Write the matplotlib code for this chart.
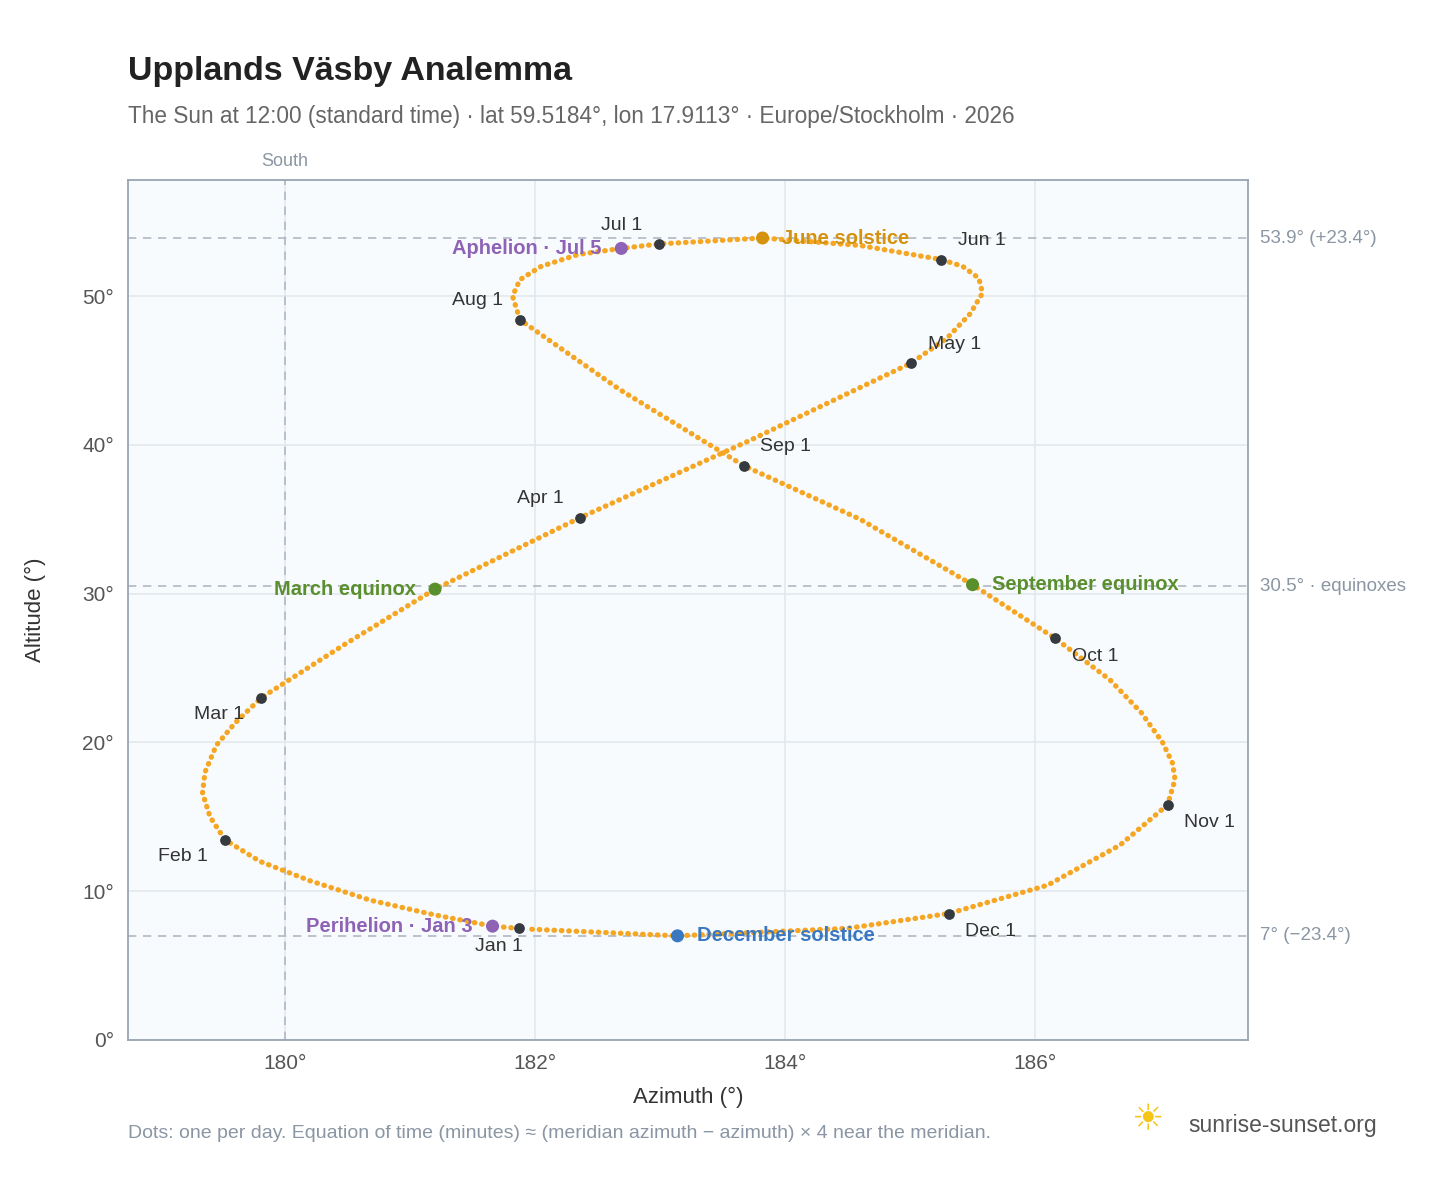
import matplotlib
matplotlib.use("Agg")
import matplotlib.pyplot as plt
plt.rcParams['font.family'] = ['Liberation Sans', 'DejaVu Sans']

# Path (approx. every ~5-10 days)
path_az = [181.87,181.66,181.20,180.68,180.20,179.80,179.52,179.40,179.34,179.36,179.45,179.60,179.81,180.48,181.20,182.36,183.72,185.01,185.30,185.48,185.58,185.55,185.42,185.25,184.60,183.82,182.99,182.69,182.35,182.05,181.88,181.82,181.88,182.68,183.67,184.60,185.50,186.16,186.60,186.85,187.02,187.10,187.12,187.06,186.68,186.10,185.31,184.50,183.14,181.95]
path_alt = [7.50,7.65,8.40,9.40,10.70,12.00,13.45,15.00,16.60,18.00,19.80,21.30,23.00,26.60,30.30,35.10,40.30,45.50,47.20,48.80,50.20,51.20,52.00,52.45,53.40,53.90,53.50,53.20,52.80,52.00,51.10,50.00,48.40,43.70,38.60,35.00,30.60,27.00,24.20,22.00,20.00,18.60,17.50,15.80,13.10,10.40,8.50,7.50,7.00,7.45]

months = ["Jan 1","Feb 1","Mar 1","Apr 1","May 1","Jun 1","Jul 1","Aug 1","Sep 1","Oct 1","Nov 1","Dec 1"]
month_az = [181.87,179.52,179.81,182.36,185.01,185.25,182.99,181.88,183.67,186.16,187.06,185.31]
month_alt = [7.5,13.45,23.0,35.1,45.5,52.45,53.5,48.4,38.6,27.0,15.8,8.5]
month_off = [(-14,-13,'center'),(-12,-12,'right'),(-12,-12,'right'),(-12,14,'right'),(12,13,'left'),(12,14,'left'),(-12,13,'right'),(-12,14,'right'),(12,14,'left'),(12,-13,'left'),(12,-13,'left'),(12,-13,'left')]

events = ["June solstice","December solstice","March equinox","September equinox","Perihelion · Jan 3","Aphelion · Jul 5"]
event_az = [183.82,183.14,181.20,185.50,181.66,182.69]
event_alt = [53.9,7.0,30.3,30.6,7.65,53.2]
event_col = ["#d4920e","#3a78c2","#5a8f2e","#5a8f2e","#8e63b5","#8e63b5"]
event_side = ['left','left','right','left','right','right']

fig = plt.figure(figsize=(14.48,11.88), dpi=100)
ax = fig.add_axes([0.0884,0.1246,0.7735,0.7239])
ax.set_facecolor("#f8fbfe")
ax.set_xlim(178.744,187.704); ax.set_ylim(0,57.8)
ax.set_xticks([180,182,184,186]); ax.set_xticklabels(["180°","182°","184°","186°"])
ax.set_yticks(range(0,60,10)); ax.set_yticklabels([f"{v}°" for v in range(0,60,10)])
ax.grid(color="#e3e8ee", lw=1.2); ax.set_axisbelow(True)
for s in ax.spines.values(): s.set_color("#9aa5b1"); s.set_linewidth(1.3)
ax.tick_params(length=0, labelsize=15, colors="#555", pad=10)
ax.set_xlabel("Azimuth (°)", fontsize=16, color="#333", labelpad=10)
ax.set_ylabel("Altitude (°)", fontsize=16, color="#333", labelpad=26)

for y in [53.9,30.5,7.0]:
    ax.axhline(y, color="#b0b8c2", ls=(0,(5,4)), lw=1.2)
ax.axvline(180, color="#b0b8c2", ls=(0,(5,4)), lw=1.2)
ax.text(180,58.5,"South",ha='center',va='bottom',color="#8a96a3",fontsize=13)
for y,t in [(53.9,"53.9° (+23.4°)"),(30.5,"30.5° · equinoxes"),(7.0,"7° (−23.4°)")]:
    ax.text(187.8,y,t,va='center',ha='left',color="#8a96a3",fontsize=13.5)

ax.plot(path_az,path_alt,color="#f5a623",lw=3.8,ls=(0,(0.1,1.3)),dash_capstyle='round',solid_capstyle='round')
ax.scatter(month_az,month_alt,s=45,color="#343a40",zorder=5)
for n,x,y,(dx,dy,ha) in zip(months,month_az,month_alt,month_off):
    ax.annotate(n,(x,y),xytext=(dx,dy),textcoords='offset points',ha=ha,va='center',fontsize=14,color="#333")
ax.scatter(event_az,event_alt,s=70,color=event_col,zorder=6)
for n,x,y,c,side in zip(events,event_az,event_alt,event_col,event_side):
    dx = 14 if side=='left' else -14
    ax.annotate(n,(x,y),xytext=(dx,0),textcoords='offset points',ha=side,va='center',fontsize=14.5,color=c,fontweight='bold')

fig.text(0.0884,0.94,"Upplands Väsby Analemma",fontsize=24.5,fontweight='bold',color="#222",va='center')
fig.text(0.0884,0.902,"The Sun at 12:00 (standard time) · lat 59.5184°, lon 17.9113° · Europe/Stockholm · 2026",fontsize=16.3,color="#666",va='center')
fig.text(0.0884,0.046,"Dots: one per day. Equation of time (minutes) ≈ (meridian azimuth − azimuth) × 4 near the meridian.",fontsize=14,color="#8a96a3",va='center')
fig.text(0.821,0.053,"sunrise-sunset.org",fontsize=16.5,color="#555",va='center')
fig.text(0.792,0.057,"☀",fontsize=26,color="#f5c518",va='center',ha='center',family='DejaVu Sans')
fig.savefig("out.png",dpi=100)
